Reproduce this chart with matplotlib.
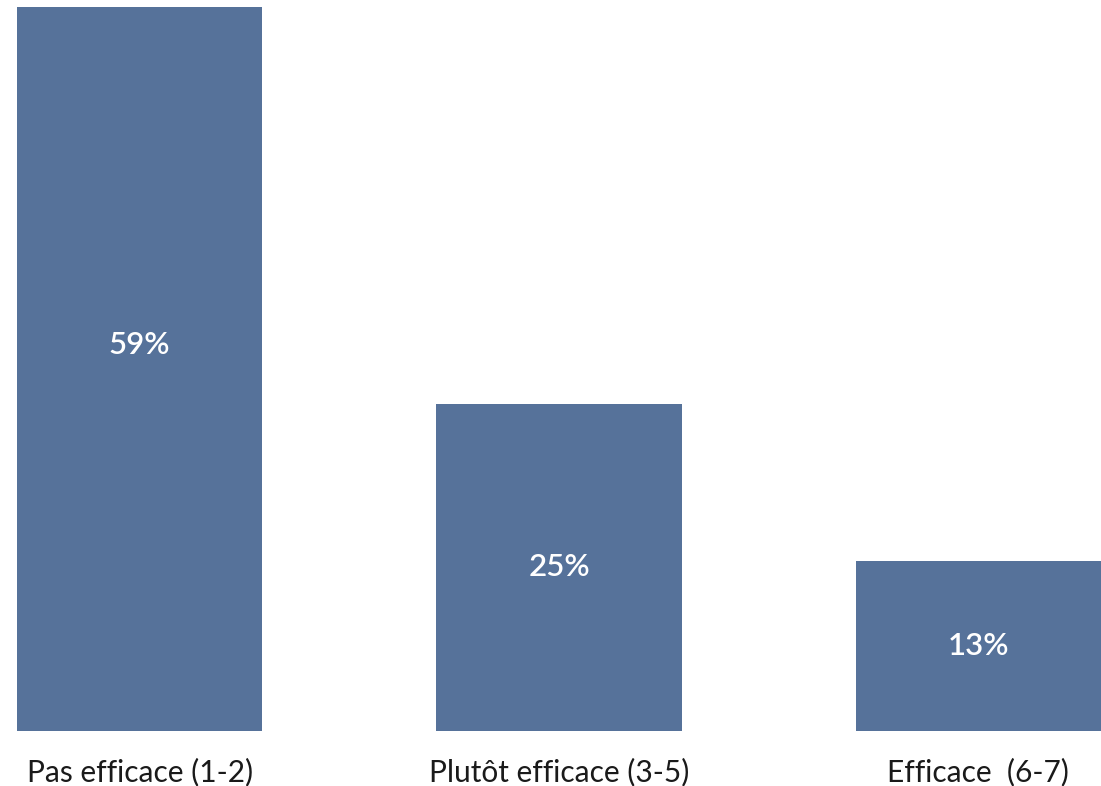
import matplotlib
matplotlib.use("Agg")
import matplotlib.pyplot as plt

categories = ["Pas efficace (1-2)", "Plutôt efficace (3-5)", "Efficace  (6-7)"]
values = [59, 25, 13]
labels = ["59%", "25%", "13%"]

color = "#56729A"

fig = plt.figure(figsize=(11.01, 7.86), dpi=100)
ax = fig.add_axes([17/1101, 55/786, 1084/1101, 724/786])
x = list(range(len(categories)))
width = 0.585
ax.bar(x, values, width=width, color=color)
ax.set_xlim(-width/2, len(categories) - 1 + width/2)
ax.set_ylim(0, 55.3)

for xi, v, lab in zip(x, values, labels):
    ax.text(xi, v/2, lab, ha="center", va="center", color="white",
            fontsize=22.5, fontfamily="Lato", fontweight="semibold")

ax.set_xticks(x)
ax.set_xticklabels(categories, fontsize=21.5, fontfamily="Lato", color="#1a1a1a")
ax.tick_params(axis="x", length=0, pad=19)
ax.set_yticks([])
for s in ax.spines.values():
    s.set_visible(False)

fig.savefig("out.png", dpi=100)
